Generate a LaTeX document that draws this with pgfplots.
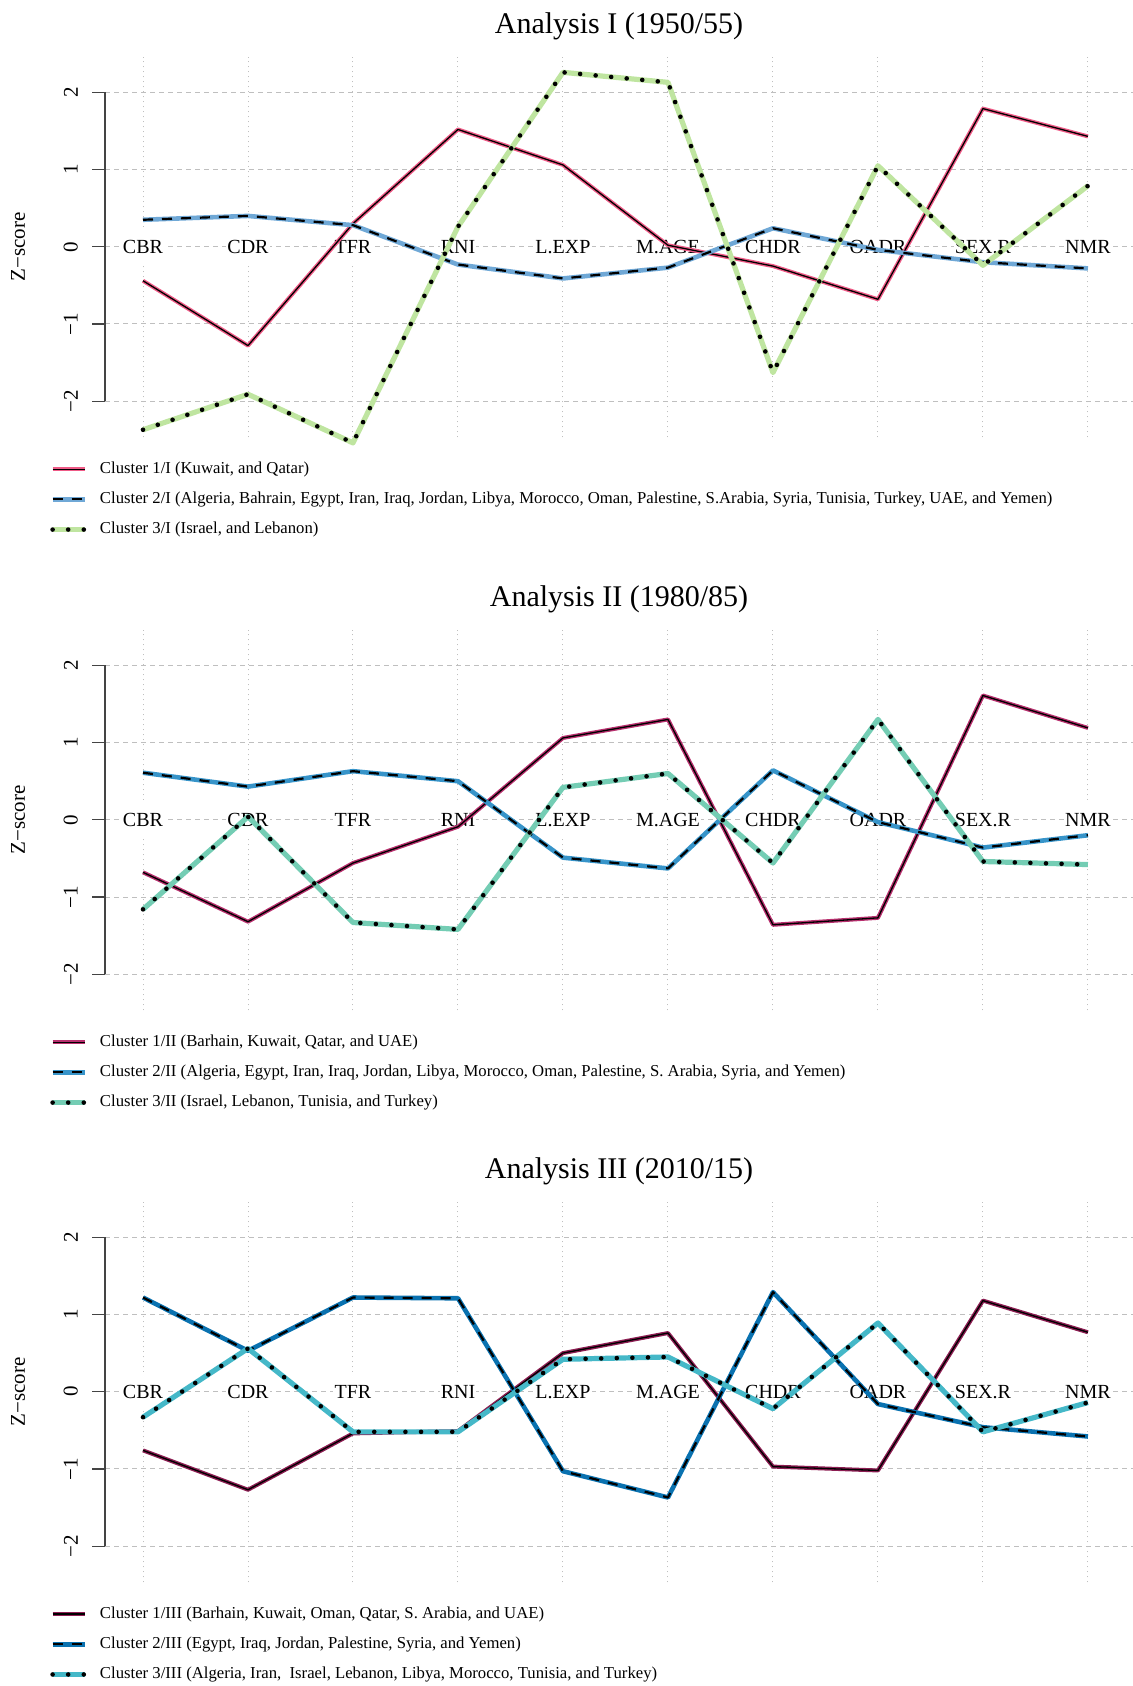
\documentclass[border=0pt]{standalone}
\usepackage{fontspec}
\setmainfont{Liberation Serif}
\usepackage{pgfplots}
\usepackage{pgfplotstable}
\pgfplotsset{compat=1.18}

\definecolor{pAa}{HTML}{EF5B87}
\definecolor{pAb}{HTML}{6FA8D6}
\definecolor{pAc}{HTML}{BFE5A0}
\definecolor{pBa}{HTML}{B8306E}
\definecolor{pBb}{HTML}{3794C9}
\definecolor{pBc}{HTML}{74CDB4}
\definecolor{pCa}{HTML}{8C1D52}
\definecolor{pCb}{HTML}{0A72B0}
\definecolor{pCc}{HTML}{45B8C8}
\definecolor{axgray}{HTML}{444444}

\pgfplotstableread{
x c1 c2 c3
0 -0.44 0.35 -2.37
1 -1.28 0.40 -1.91
2 0.30 0.28 -2.54
3 1.52 -0.23 0.26
4 1.06 -0.41 2.26
5 0.02 -0.27 2.13
6 -0.25 0.24 -1.63
7 -0.68 -0.04 1.05
8 1.79 -0.20 -0.24
9 1.43 -0.28 0.79
}\dataI

\pgfplotstableread{
x c1 c2 c3
0 -0.68 0.61 -1.16
1 -1.32 0.43 0.04
2 -0.56 0.63 -1.33
3 -0.09 0.50 -1.42
4 1.06 -0.49 0.42
5 1.30 -0.63 0.60
6 -1.36 0.64 -0.56
7 -1.27 -0.03 1.30
8 1.61 -0.36 -0.54
9 1.19 -0.20 -0.58
}\dataII

\pgfplotstableread{
x c1 c2 c3
0 -0.76 1.22 -0.33
1 -1.27 0.53 0.56
2 -0.54 1.22 -0.52
3 -0.51 1.21 -0.52
4 0.50 -1.03 0.42
5 0.76 -1.37 0.45
6 -0.97 1.29 -0.22
7 -1.02 -0.16 0.89
8 1.18 -0.46 -0.52
9 0.77 -0.58 -0.14
}\dataIII

\pgfplotsset{
  panel/.style={
    scale only axis, width=514pt, height=190.3pt,
    xmin=-0.362, xmax=9.429, ymin=-2.47, ymax=2.46,
    hide axis, clip=false, anchor=south west,
    title style={font=\fontsize{15}{18}\selectfont, at={(0.5,1)}, anchor=center, yshift=9.4pt},
    legend style={at={(-0.0539,-0.0526)}, anchor=north west, draw=none, fill=none,
      inner sep=0pt, row sep=3.8pt, column sep=4.4pt,
      font=\fontsize{8.35}{10}\selectfont, cells={anchor=west}},
    legend image code/.code={\draw[##1] (0pt,0pt) -- (16pt,0pt);},
  },
  sA/.style={black, line width=0.65pt, line join=round,
    preaction={draw=#1, line width=2.0pt, solid}},
  sB/.style={black, line width=1.1pt, dash pattern=on 5pt off 4.5pt, line join=round,
    preaction={draw=#1, line width=2.3pt, solid}},
  sC/.style={black, line width=2.3pt, dash pattern=on 0pt off 7.8pt, line cap=round, line join=round,
    preaction={draw=#1, line width=2.6pt, solid, line cap=butt}},
}

\tikzset{
  gridv/.style={draw=black!25, line width=0.5pt, dash pattern=on 0.5pt off 2pt},
  gridh/.style={draw=black!25, line width=0.5pt, dash pattern=on 2.3pt off 2.2pt},
  axline/.style={draw=axgray, line width=0.6pt},
  catlab/.style={fill=white, inner xsep=0.6pt, inner ysep=6.5pt, text height=6.6pt, text depth=0pt,
    font=\fontsize{10}{12}\selectfont, anchor=center},
  ticklab/.style={rotate=90, font=\fontsize{10.5}{12}\selectfont, anchor=center},
}

\newcommand\panelframe{%
  \pgfplotsinvokeforeach{0,...,9}{\draw[gridv] (axis cs:##1,-2.47) -- (axis cs:##1,2.46);}%
  \pgfplotsinvokeforeach{-2,...,2}{\draw[gridh] (axis cs:-0.362,##1) -- (axis cs:9.6,##1);}%
  \draw[axline] (axis cs:-0.362,-2) -- (axis cs:-0.362,2);%
  \pgfplotsinvokeforeach{-2,...,2}{\draw[axline] (axis cs:-0.362,##1) -- ++(-6.5pt,0pt);}%
  \node[ticklab] at ([xshift=-17.1pt]axis cs:-0.362,-2) {−2};%
  \node[ticklab] at ([xshift=-17.1pt]axis cs:-0.362,-1) {−1};%
  \node[ticklab] at ([xshift=-17.1pt]axis cs:-0.362,0) {0};%
  \node[ticklab] at ([xshift=-17.1pt]axis cs:-0.362,1) {1};%
  \node[ticklab] at ([xshift=-17.1pt]axis cs:-0.362,2) {2};%
  \node[ticklab] at ([xshift=-43.5pt]axis cs:-0.362,0) {Z−score};%
  \node[catlab] at (axis cs:0,0) {CBR};%
  \node[catlab] at (axis cs:1,0) {CDR};%
  \node[catlab] at (axis cs:2,0) {TFR};%
  \node[catlab] at (axis cs:3,0) {RNI};%
  \node[catlab] at (axis cs:4,0) {L.EXP};%
  \node[catlab] at (axis cs:5,0) {M.AGE};%
  \node[catlab] at (axis cs:6,0) {CHDR};%
  \node[catlab] at (axis cs:7,0) {OADR};%
  \node[catlab] at (axis cs:8,0) {SEX.R};%
  \node[catlab] at (axis cs:9,0) {NMR};%
}

\begin{document}
\begin{tikzpicture}
\useasboundingbox (0,0) rectangle (566.5pt,843pt);

\begin{axis}[panel, at={(52.5pt,624.25pt)}, title={Analysis I (1950/55)}]
\panelframe
\addplot[sA=pAa] table[x=x, y=c1] {\dataI};
\addlegendentry{Cluster 1/I (Kuwait, and Qatar)}
\addplot[sB=pAb] table[x=x, y=c2] {\dataI};
\addlegendentry{Cluster 2/I (Algeria, Bahrain, Egypt, Iran, Iraq, Jordan, Libya, Morocco, Oman, Palestine, S.Arabia, Syria, Tunisia, Turkey, UAE, and Yemen)}
\addplot[sC=pAc] table[x=x, y=c3] {\dataI};
\addlegendentry{Cluster 3/I (Israel, and Lebanon)}
\end{axis}

\begin{axis}[panel, at={(52.5pt,337.75pt)}, title={Analysis II (1980/85)}]
\panelframe
\addplot[sA=pBa] table[x=x, y=c1] {\dataII};
\addlegendentry{Cluster 1/II (Barhain, Kuwait, Qatar, and UAE)}
\addplot[sB=pBb] table[x=x, y=c2] {\dataII};
\addlegendentry{Cluster 2/II (Algeria, Egypt, Iran, Iraq, Jordan, Libya, Morocco, Oman, Palestine, S. Arabia, Syria, and Yemen)}
\addplot[sC=pBc] table[x=x, y=c3] {\dataII};
\addlegendentry{Cluster 3/II (Israel, Lebanon, Tunisia, and Turkey)}
\end{axis}

\begin{axis}[panel, at={(52.5pt,51.8pt)}, title={Analysis III (2010/15)}]
\panelframe
\addplot[sA=pCa] table[x=x, y=c1] {\dataIII};
\addlegendentry{Cluster 1/III (Barhain, Kuwait, Oman, Qatar, S. Arabia, and UAE)}
\addplot[sB=pCb] table[x=x, y=c2] {\dataIII};
\addlegendentry{Cluster 2/III (Egypt, Iraq, Jordan, Palestine, Syria, and Yemen)}
\addplot[sC=pCc] table[x=x, y=c3] {\dataIII};
\addlegendentry{Cluster 3/III (Algeria, Iran,~ Israel, Lebanon, Libya, Morocco, Tunisia, and Turkey)}
\end{axis}
\end{tikzpicture}
\end{document}
